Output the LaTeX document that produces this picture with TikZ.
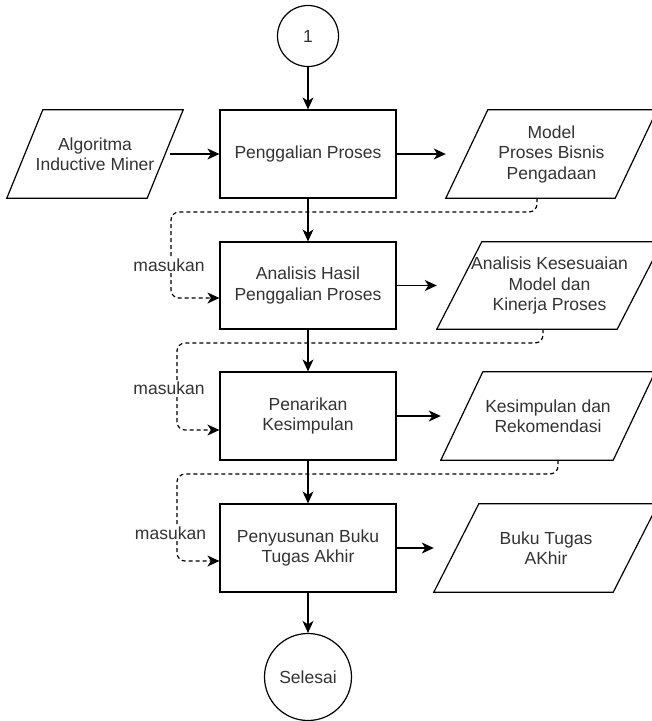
\documentclass[tikz,border=0pt]{standalone}
\usepackage{fontspec}
\setmainfont{Liberation Sans}
\usetikzlibrary{arrows.meta}
\definecolor{inkline}{HTML}{000000}
\definecolor{inktext}{HTML}{333333}
\begin{document}
\begin{tikzpicture}[x=1pt,y=-1pt,
  every node/.style={font=\fontsize{17.5}{20.5}\selectfont, text=inktext,
                     inner sep=0pt, align=center},
  process/.style={draw=inkline, line width=1.2pt, minimum width=176pt, minimum height=88pt},
  datatext/.style={minimum height=88pt},
  outline/.style={draw=inkline, line width=1.2pt, line join=miter},
  terminal/.style={draw=inkline, line width=1.2pt, circle},
  flow/.style={draw=inkline, line width=1.2pt, -{Stealth[length=12pt,width=11pt,inset=3.5pt]}},
  feed/.style={flow, dash pattern=on 4pt off 3pt, rounded corners=8pt},
  tag/.style={fill=white, inner sep=1pt}]

\fill[white] (0,0) rectangle (652,721);
\useasboundingbox (0,0) rectangle (652,721);

% terminators
\node[terminal, minimum size=61pt] (c1) at (308,36) {1};
\node[terminal, minimum size=87pt] (c2) at (308,677) {Selesai};

% process steps
\node[process] (b1) at (308,154) {Penggalian Proses};
\node[process, minimum height=87pt] (b2) at (308,285.5) {Analisis Hasil\\Penggalian Proses};
\node[process] (b3) at (308,416) {Penarikan\\Kesimpulan};
\node[process] (b4) at (308,548) {Penyusunan Buku\\Tugas Akhir};

% input / output data (text holders, outlines drawn below)
\node[datatext, minimum width=140pt] (in) at (95,154) {Algoritma\\Inductive Miner};
\node[datatext, minimum width=169pt] (o1) at (551.5,154) {Model\\Proses Bisnis\\Pengadaan};
\node[datatext, minimum width=180pt, minimum height=87pt] (o2) at (549.5,285.5) {Analisis Kesesuaian\\Model dan\\Kinerja Proses};
\node[datatext, minimum width=172pt] (o3) at (548,416) {Kesimpulan dan\\Rekomendasi};
\node[datatext, minimum width=179pt] (o4) at (546,548) {Buku Tugas\\AKhir};

% parallelogram outlines around the data nodes
\foreach \n/\s in {in/18, o1/21, o2/22.5, o3/21, o4/22.5}
  \draw[outline] ([xshift=\s pt]\n.north west) -- ([xshift=\s pt]\n.north east)
    -- ([xshift=-\s pt]\n.south east) -- ([xshift=-\s pt]\n.south west) -- cycle;

% main flow
\draw[flow] (c1) -- (b1);
\draw[flow] (b1) -- (b2);
\draw[flow] (b2) -- (b3);
\draw[flow] (b3) -- (b4);
\draw[flow] (b4) -- (c2);

% inputs and outputs
\draw[flow, shorten <=5pt] (in.east) -- (b1.west);
\draw[flow] (b1.east) -- ([xshift=-21pt]o1.west);
\draw[flow] (b2.east) -- ([xshift=-22.5pt]o2.west);
\draw[flow] (b3.east) -- ([xshift=-21pt]o3.west);
\draw[flow] (b4.east) -- ([xshift=-22.5pt]o4.west);

% results fed back as input to the next step
\draw[feed] ([xshift=-14.5pt]o1.south) |- (171,212) |- ([yshift=-12.5pt]b2.west);
\draw[feed] ([xshift=-6.5pt]o2.south) |- (177,343) |- ([yshift=-14pt]b3.west);
\draw[feed] ([xshift=10pt]o3.south) |- (177,474) |- ([yshift=-13pt]b4.west);

\node[tag] (m1) at (169,265) {masukan};
\node[tag] (m2) at (169,388) {masukan};
\node[tag] (m3) at (170.5,533) {masukan};
\end{tikzpicture}
\end{document}
